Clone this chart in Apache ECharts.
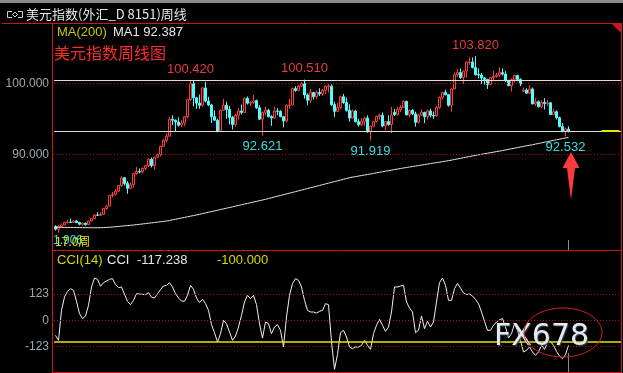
<!DOCTYPE html>
<html><head><meta charset="utf-8">
<script src="https://cdn.jsdelivr.net/npm/echarts@6/dist/echarts.min.js"></script>
<style>html,body{margin:0;padding:0;background:#000;overflow:hidden}#c{width:623px;height:373px;}</style>
</head><body><div id="c"></div>
<script>
// ---- data (weekly US Dollar Index, from week of 2014-04-28) ----
const openP = [79.85,79.45,79.85,80.05,80.40,80.45,80.40,80.60,80.40,80.15,
80.30,80.10,80.60,80.95,81.45,81.40,81.55,82.35,82.70,84.20,
84.35,84.80,85.60,86.70,85.90,85.20,85.70,87.30,87.60,87.50,
88.00,88.40,89.30,88.40,89.60,89.95,91.10,91.95,92.55,94.95,
94.80,94.55,94.10,94.40,95.30,97.70,100.00,97.95,97.20,96.90,
99.35,97.50,96.95,95.30,94.80,93.20,96.20,96.90,96.30,95.20,
94.20,95.50,96.10,95.90,97.90,97.20,97.30,97.55,96.55,94.95,
95.90,96.20,95.30,95.10,96.10,96.05,95.30,94.70,96.90,96.95,
99.25,99.00,99.60,100.00,98.35,97.60,98.70,98.10,98.70,98.50,
99.00,99.55,99.60,97.00,96.05,96.60,98.10,97.30,96.20,95.10,
96.10,94.60,94.15,94.65,95.10,93.15,93.95,94.60,95.30,95.50,
94.00,94.60,94.20,95.90,95.60,96.30,96.60,97.45,95.55,96.20,
95.70,94.50,95.50,95.90,95.30,96.10,95.50,95.40,96.60,98.00,
98.70,98.40,96.90,99.20,101.20,101.50,100.80,101.70,102.95,103.00,
102.20,101.25,101.15,100.75,100.55,99.85,100.80,100.95,101.15,101.50,
101.30,100.35,99.65,100.55,101.10,100.55,98.85,99.05,98.60,99.20,
97.10,97.40,96.70,97.30,97.15,97.25,95.60,96.00,95.15,93.90,
93.25,93.55];
const closeP = [79.45,79.85,80.05,80.40,80.45,80.40,80.60,80.40,80.15,80.30,
80.10,80.60,80.95,81.45,81.40,81.55,82.35,82.70,84.20,84.35,
84.80,85.60,86.70,85.90,85.20,85.70,87.30,87.60,87.50,88.00,
88.40,89.30,88.40,89.60,89.95,91.10,91.95,92.55,94.95,94.80,
94.55,94.10,94.40,95.30,97.70,100.00,97.95,97.20,96.90,99.35,
97.50,96.95,95.30,94.80,93.20,96.20,96.90,96.30,95.20,94.20,
95.50,96.10,95.90,97.90,97.20,97.30,97.55,96.55,94.95,95.90,
96.20,95.30,95.10,96.10,96.05,95.30,94.70,96.90,96.95,99.25,
99.00,99.60,100.00,98.35,97.60,98.70,98.10,98.70,98.50,99.00,
99.60,99.60,97.00,96.05,96.60,98.10,97.30,96.20,95.10,96.10,
94.60,94.15,94.65,95.10,93.15,93.95,94.60,95.30,95.50,94.00,
94.60,94.20,95.50,95.60,96.30,96.60,97.45,95.55,96.20,95.70,
94.50,95.50,95.90,95.30,96.10,95.50,95.40,96.60,98.00,98.70,
98.40,96.90,99.20,101.20,101.50,100.80,101.70,103.00,103.00,102.20,
101.20,101.15,100.75,100.55,99.85,100.80,100.95,101.15,101.50,101.30,
100.35,99.65,100.55,101.10,100.55,99.90,99.05,98.60,99.20,97.10,
97.40,96.70,97.30,97.15,97.25,95.60,96.00,95.15,93.90,93.25,
93.55,93.30];
const lowP = [79.25,78.95,79.70,80.00,80.25,80.30,80.35,80.30,80.00,79.95,
79.95,80.05,80.55,80.90,81.30,81.30,81.50,82.20,82.70,83.95,
84.20,84.70,85.40,85.60,84.45,85.10,85.30,87.10,87.30,87.30,
87.75,88.20,88.15,87.85,89.50,89.70,91.10,91.70,92.45,94.10,
93.20,93.90,93.80,94.00,95.10,97.50,96.80,96.40,96.40,96.70,
97.30,96.80,94.40,94.70,93.10,93.15,96.10,95.00,94.20,93.50,
93.90,94.90,95.60,95.80,97.00,96.80,97.10,96.40,94.80,92.621,
95.50,95.20,94.00,95.00,95.50,95.20,93.80,94.50,96.40,96.90,
98.80,98.90,99.45,97.85,96.90,97.20,97.70,97.80,98.20,98.20,
98.50,98.70,96.80,95.25,96.00,96.30,97.10,96.00,94.60,95.00,
94.50,93.90,93.95,94.00,93.05,91.919,93.80,94.50,94.85,93.80,
93.40,94.00,93.00,95.40,95.50,95.95,96.50,95.50,95.20,95.50,
93.90,94.30,95.40,94.40,94.90,95.20,95.00,95.30,96.40,97.70,
98.30,96.70,96.00,99.10,100.90,100.60,99.90,100.80,102.60,102.10,
101.10,100.70,99.90,99.80,99.20,99.70,100.40,100.80,100.90,101.10,
100.20,99.60,98.85,100.10,100.30,99.60,98.80,98.60,98.55,97.05,
96.80,96.60,96.50,96.30,96.80,95.50,95.50,94.90,93.80,93.10,
92.532,93.10];
const highP = [80.00,80.05,80.25,80.50,80.75,80.95,80.70,80.75,80.50,80.40,
80.40,80.65,81.00,81.60,81.85,81.80,82.45,82.80,84.25,84.70,
85.10,85.70,86.90,86.75,86.20,86.00,87.40,88.20,88.00,88.15,
88.50,89.45,89.55,89.70,90.10,91.25,92.20,92.95,95.30,95.50,
94.90,95.20,94.80,95.40,97.80,100.42,100.35,98.10,98.40,99.45,
100.20,98.10,97.10,96.20,95.00,96.30,97.80,97.40,96.80,95.40,
95.70,96.50,97.00,98.00,98.15,97.50,98.35,97.70,96.90,96.00,
96.70,96.40,95.50,96.70,96.50,96.20,95.40,97.00,97.80,99.40,
99.60,99.80,100.15,100.51,98.60,99.20,98.80,99.00,99.30,99.20,
99.70,99.90,99.85,97.40,97.25,98.25,98.50,98.00,97.05,96.30,
96.20,95.00,95.10,95.30,95.50,94.00,94.70,95.45,95.70,95.90,
94.70,95.50,96.70,96.40,96.70,96.90,97.60,97.55,96.30,96.35,
96.00,95.70,96.35,96.00,96.30,96.40,96.00,96.80,98.15,98.80,
99.10,98.50,99.30,101.50,102.00,102.10,101.80,103.10,103.65,103.65,
103.82,102.10,101.45,100.90,100.60,100.90,101.75,101.45,102.25,102.10,
101.70,100.50,100.70,101.20,101.20,100.70,99.40,99.30,99.70,99.40,
97.90,97.60,97.60,97.90,97.70,97.30,96.40,96.20,95.30,94.40,
93.75,93.95];
const ma200 = [79.72,79.71,79.71,79.70,79.70,79.69,79.69,79.68,79.68,79.67,79.67,79.66,79.66,79.66,79.66,79.66,
79.68,79.70,79.73,79.76,79.80,79.84,79.88,79.92,79.96,80.00,80.04,
80.09,80.14,80.19,80.24,80.29,80.34,80.39,80.44,80.49,80.55,80.60,
80.68,80.77,80.85,80.94,81.03,81.11,81.20,81.29,81.37,81.46,81.55,
81.65,81.74,81.84,81.93,82.03,82.12,82.22,82.31,82.41,82.50,82.60,
82.70,82.79,82.89,82.99,83.08,83.18,83.28,83.37,83.47,83.56,83.66,
83.77,83.88,83.99,84.10,84.20,84.31,84.42,84.53,84.63,84.74,84.85,
84.96,85.07,85.18,85.29,85.39,85.50,85.61,85.72,85.83,85.94,86.05,86.16,86.26,86.37,86.48,86.59,86.70,
86.78,86.85,86.93,87.01,87.08,87.16,87.23,87.31,87.39,87.46,87.54,87.62,87.69,87.77,87.85,87.92,88.00,
88.07,88.14,88.21,88.28,88.34,88.41,88.48,88.55,88.62,88.69,88.76,88.83,88.89,88.96,89.03,89.10,
89.18,89.27,89.35,89.43,89.52,89.60,89.68,89.77,89.85,
89.93,90.00,90.08,90.15,90.23,90.30,90.38,90.45,
90.53,90.61,90.70,90.78,90.86,90.94,91.02,91.11,91.19,91.27,91.35,
91.44,91.52,91.61,91.70,91.78,91.87,91.96,92.04,92.13,92.22,92.30,92.387];
const cci14 = [-70.6,-94.1,46.8,109.4,136.0,148.5,140.7,89.0,31.2,7.7,
20.2,70.3,156.3,198.6,192.3,159.5,176.7,184.5,192.3,195.5,
167.4,153.2,156.3,121.9,89.0,73.4,93.7,125.0,123.5,121.9,
120.3,129.7,107.8,104.7,125.0,143.8,161.0,164.2,176.7,156.3,
125.0,104.7,90.6,89.0,117.2,164.2,145.4,104.7,82.8,98.4,
78.1,46.8,-20.5,-58.1,-101.9,-62.8,-0.2,-15.8,-54.9,-94.1,
-73.7,-31.5,23.3,85.9,117.2,101.6,117.2,73.4,-15.8,-83.1,
-8.0,-15.8,-62.8,-31.5,-20.5,-47.1,-125.4,15.5,117.2,172.0,
195.5,187.6,156.3,93.7,46.8,39.0,39.0,34.3,42.1,46.8,
78.1,73.4,-101.9,-230.0,-160.0,-58.1,-47.1,-78.4,-125.4,-133.2,
-125.4,-125.4,-117.5,-94.1,-117.5,-136.3,-62.8,-23.6,4.5,-23.6,
-51.8,-31.5,39.0,156.3,156.3,161.0,164.2,85.9,57.7,39.0,
-58.1,-47.1,20.2,-39.3,-4.9,-31.5,-8.0,85.9,176.7,198.6,
164.2,93.7,93.7,148.5,173.6,151.6,128.2,120.3,123.5,114.1,
98.4,78.1,39.0,-4.9,-47.1,-47.1,-23.6,-8.0,3.0,7.7,
-31.5,-83.1,-62.8,-15.8,-47.1,-94.1,-148.8,-141.0,-125.4,-148.8,
-164.5,-148.8,-117.5,-136.3,-105.0,-98.7,-117.5,-145.7,-167.6,-180.1,
-161.3,-117.238];
const priceTicks = [90, 100];
const cciTicks = [-123, 0, 123];
const cciLevel = -100;
const resistLine = 100.42;
const supportLine = 93.24;
const highMarks = [45, 83, 140];
const lowMarks = [69, 105, 170];
const padBars = 17;

// ---- build ----
const categories = [];
let d = Date.UTC(2014, 3, 28);
for (let i = 0; i < openP.length + padBars; i++) {
  categories.push(i < openP.length ? new Date(d).toISOString().slice(0, 10) : 'pad' + i);
  d += 7 * 864e5;
}
const ohlc = openP.map((o, i) => [o, closeP[i], lowP[i], highP[i]]);
const last = openP.length - 1;

const RED = '#c81818';
const NUM = '"Liberation Sans", Arial, sans-serif';
const CJK = '"Noto Sans CJK SC", sans-serif';
function txt(t, x, y, color, size, fam, extra) {
  return {type: 'text', z: 50, silent: true,
    style: Object.assign({text: t, x: x, y: y, fill: color, font: size + 'px ' + fam, textVerticalAlign: 'middle'}, extra || {})};
}
function ln(x1, y1, x2, y2, color, w) {
  return {type: 'line', z: 1, silent: true, shape: {x1, y1, x2, y2}, style: {stroke: color, lineWidth: w || 1}};
}
const dotted = {color: '#b00c0c', type: [1, 2], width: 1};

const markPts = highMarks.map(i => ({coord: [i, highP[i]], value: highP[i],
    label: {position: 'top', distance: 4, color: '#e63c3c'}}))
  .concat(lowMarks.map(i => ({coord: [i, lowP[i]], value: lowP[i],
    label: {position: 'bottom', distance: 4, color: '#3cdcdc'}})));

const chart = echarts.init(document.getElementById('c'));
chart.setOption({
  backgroundColor: '#000',
  animation: false,
  grid: [
    {left: 54, top: 24, width: 567, height: 226},
    {left: 54, top: 250, width: 567, height: 122}
  ],
  xAxis: [0, 1].map(g => ({type: 'category', gridIndex: g, data: categories, boundaryGap: true,
    axisLine: {show: false}, axisTick: {show: false}, axisLabel: {show: false}, splitLine: {show: false}})),
  yAxis: [
    {type: 'value', gridIndex: 0, min: 76.52, max: 108.35,
     axisLine: {show: false}, axisTick: {show: false}, splitLine: {show: false},
     axisLabel: {customValues: priceTicks, formatter: v => v.toFixed(3), color: '#9ea7b0', fontSize: 12, fontFamily: NUM, margin: 5}},
    {type: 'value', gridIndex: 1, min: -242.7, max: 330,
     axisLine: {show: false}, axisTick: {show: false}, splitLine: {show: false},
     axisLabel: {customValues: cciTicks, formatter: v => String(v), color: '#9ea7b0', fontSize: 12, fontFamily: NUM, margin: 5}}
  ],
  series: [
    {type: 'candlestick', xAxisIndex: 0, yAxisIndex: 0, data: ohlc, barWidth: 2,
     itemStyle: {color: '#000', color0: '#54fcfc', borderColor: '#ff3c3c', borderColor0: '#54fcfc', borderWidth: 1},
     markLine: {symbol: ['none', 'none'], silent: true, label: {show: false},
       data: [
         {yAxis: priceTicks[1], lineStyle: dotted},
         {yAxis: priceTicks[0], lineStyle: dotted},
         {yAxis: resistLine, lineStyle: {color: '#dcdcdc', type: 'solid', width: 1}},
         {yAxis: supportLine, lineStyle: {color: '#dcdcdc', type: 'solid', width: 1}},
         [{coord: [182, closeP[last]], lineStyle: {color: '#e6e600', type: 'solid', width: 2}}, {coord: [188, closeP[last]]}]
       ]},
     markPoint: {symbol: 'circle', symbolSize: 1, itemStyle: {color: 'rgba(0,0,0,0)'}, silent: true,
       label: {show: true, fontSize: 13, fontFamily: NUM, formatter: p => p.value.toFixed(3)},
       data: markPts}
    },
    {type: 'line', xAxisIndex: 0, yAxisIndex: 0, data: ma200, symbol: 'none', silent: true,
     lineStyle: {color: '#e6e6e6', width: 1}},
    {type: 'line', xAxisIndex: 1, yAxisIndex: 1, data: cci14, symbol: 'none', silent: true,
     lineStyle: {color: '#f0f0f0', width: 1},
     markLine: {symbol: ['none', 'none'], silent: true, label: {show: false},
       data: [
         {yAxis: cciTicks[2], lineStyle: dotted},
         {yAxis: cciTicks[1], lineStyle: dotted},
         {yAxis: cciTicks[0], lineStyle: dotted},
         {yAxis: cciLevel, lineStyle: {color: '#e6e600', type: 'solid', width: 1.5}}
       ]}
    }
  ],
  graphic: [
    {type: 'rect', z: 1, silent: true, shape: {x: 0, y: 0, width: 623, height: 3}, style: {fill: '#8a8a8a'}},
    ln(2, 23.5, 621, 23.5, RED),
    ln(52.5, 23, 52.5, 373, RED),
    ln(621.5, 23, 621.5, 373, RED),
    ln(52, 250.5, 621, 250.5, RED),
    ln(52, 372.5, 621, 372.5, RED),
    {type: 'polygon', z: 2, silent: true, shape: {points: [[612, 24], [621, 24], [621, 33]]}, style: {fill: RED}},
    // title icon
    {type: 'polyline', z: 50, silent: true, shape: {points: [[12, 11.5], [7.5, 11.5], [7.5, 17.5], [12, 17.5]]}, style: {stroke: '#d0d0d0', fill: null, lineWidth: 1}},
    {type: 'polygon', z: 50, silent: true, shape: {points: [[15, 12], [17.5, 14.5], [15, 17], [12.5, 14.5]]}, style: {stroke: '#d0d0d0', fill: null, lineWidth: 1}},
    {type: 'polyline', z: 50, silent: true, shape: {points: [[18, 11.5], [22.5, 11.5], [22.5, 17.5], [18, 17.5]]}, style: {stroke: '#d0d0d0', fill: null, lineWidth: 1}},
    txt('美元指数(外汇_D 8151)周线', 26, 14, '#e6e6e6', 13, CJK),
    txt('MA(200)', 57, 32, '#c8c800', 13, NUM),
    txt('MA1 ' + ma200[last].toFixed(3), 113, 32, '#e6e6e6', 13, NUM),
    txt('美元指数周线图', 54, 53, '#ff2a2a', 16, CJK),
    txt('1.906', 53, 241, '#3cdcdc', 12, NUM),
    txt('17.0周', 55, 241, '#e6e600', 12, CJK),
    txt('CCI(14)', 57, 260, '#d8d800', 13, NUM),
    txt('CCI', 107, 260, '#e6e6e6', 13, NUM),
    txt(cci14[last].toFixed(3), 137, 260, '#e6e6e6', 13, NUM),
    txt(cciLevel.toFixed(3), 217, 260, '#d8d800', 13, NUM),
    ln(568.5, 240, 568.5, 250, '#8a8a8a'),
    ln(568.5, 353, 568.5, 372, '#8a8a8a'),
    {type: 'polygon', z: 60, silent: true,
     shape: {points: [[571, 152], [579.5, 168], [575, 168], [571, 200], [567, 168], [562.5, 168]]},
     style: {fill: '#ff3a3a'}},
    {type: 'text', z: 60, silent: true,
     style: {text: 'FX678', x: 494, y: 337, font: '30px "DejaVu Sans", sans-serif', fill: '#e4eaf2',
       textVerticalAlign: 'middle', textShadowColor: '#3a4048', textShadowOffsetX: 1, textShadowOffsetY: 1, textShadowBlur: 1}},
    {type: 'ellipse', z: 61, silent: true, shape: {cx: 563, cy: 332.5, rx: 39, ry: 24.5},
     style: {stroke: '#d42020', fill: null, lineWidth: 1}}
  ]
});
</script>
</body></html>
